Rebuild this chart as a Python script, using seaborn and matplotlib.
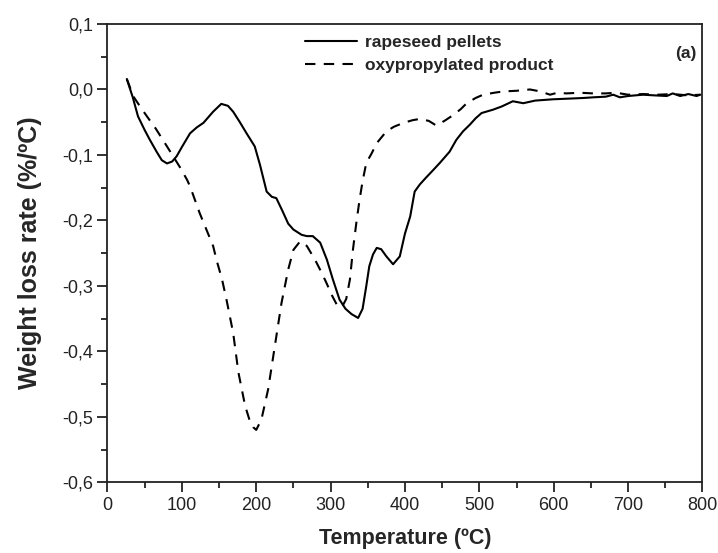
import pandas as pd
import seaborn as sns
import matplotlib.pyplot as plt
from matplotlib.ticker import FixedLocator, MultipleLocator

# data
rapeseed_temp = [26, 34, 41, 50, 57, 66, 73, 80, 87, 93, 100, 111, 120, 129, 142, 153, 162, 169,
                 178, 187, 198, 205, 214, 221, 227, 235, 243, 250, 261, 268, 276, 286, 295, 303,
                 312, 320, 328, 337, 343, 348, 352, 357, 362, 368, 375, 384, 393, 400, 407, 413,
                 420, 428, 438, 447, 460, 469, 478, 487, 495, 503, 518, 530, 545, 559, 575, 599,
                 620, 640, 653, 670, 680, 689, 700, 720, 735, 752, 760, 770, 781, 792, 797]
rapeseed_rate = [0.016, -0.012, -0.041, -0.062, -0.077, -0.095, -0.108, -0.113, -0.110, -0.102,
                 -0.088, -0.067, -0.058, -0.051, -0.034, -0.022, -0.025, -0.034, -0.050, -0.067,
                 -0.087, -0.115, -0.156, -0.164, -0.166, -0.185, -0.205, -0.214, -0.222, -0.224,
                 -0.224, -0.234, -0.260, -0.290, -0.321, -0.335, -0.343, -0.349, -0.335, -0.300,
                 -0.270, -0.252, -0.242, -0.244, -0.255, -0.267, -0.255, -0.220, -0.194, -0.156,
                 -0.145, -0.135, -0.123, -0.112, -0.095, -0.077, -0.064, -0.054, -0.044, -0.036,
                 -0.031, -0.026, -0.018, -0.021, -0.017, -0.015, -0.014, -0.013, -0.012, -0.011,
                 -0.008, -0.012, -0.010, -0.008, -0.009, -0.010, -0.006, -0.010, -0.007, -0.010,
                 -0.008]

oxy_temp = [26, 35, 45, 53, 65, 80, 97, 107, 111, 124, 133, 142, 147, 154, 160, 169, 176, 185,
            191, 196, 200, 207, 216, 225, 234, 243, 250, 259, 268, 279, 288, 295, 302, 308, 315,
            321, 326, 330, 335, 339, 343, 348, 355, 362, 375, 385, 398, 410, 420, 432, 442, 453,
            465, 475, 483, 495, 505, 520, 532, 550, 568, 582, 595, 605, 617, 635, 653, 670, 684,
            700, 720, 740, 760, 780, 797]
oxy_rate = [0.016, -0.011, -0.028, -0.041, -0.060, -0.087, -0.118, -0.138, -0.148, -0.189, -0.214,
            -0.239, -0.262, -0.290, -0.321, -0.372, -0.432, -0.483, -0.505, -0.516, -0.520, -0.504,
            -0.458, -0.392, -0.326, -0.275, -0.245, -0.232, -0.239, -0.260, -0.280, -0.297, -0.315,
            -0.328, -0.333, -0.320, -0.290, -0.245, -0.200, -0.168, -0.140, -0.112, -0.098, -0.082,
            -0.064, -0.057, -0.051, -0.047, -0.045, -0.048, -0.055, -0.048, -0.039, -0.030, -0.021,
            -0.013, -0.008, -0.005, -0.003, -0.002, 0.000, -0.003, -0.008, -0.005, -0.006, -0.005,
            -0.006, -0.006, -0.005, -0.008, -0.007, -0.008, -0.007, -0.009, -0.008]

x_ticks = [0, 100, 200, 300, 400, 500, 600, 700, 800]
y_ticks = [-0.6, -0.5, -0.4, -0.3, -0.2, -0.1, 0.0, 0.1]
y_tick_labels = ['-0,6', '-0,5', '-0,4', '-0,3', '-0,2', '-0,1', '0,0', '0,1']

sns.set_style('ticks')
plt.rcParams['font.family'] = ['Liberation Sans', 'DejaVu Sans']

fig = plt.figure(figsize=(7.18, 5.53), dpi=100)
ax = fig.add_axes([0.1497, 0.1279, 0.8287, 0.8287])

sns.lineplot(x=rapeseed_temp, y=rapeseed_rate, ax=ax, color='black', lw=1.5,
             label='rapeseed pellets')
sns.lineplot(x=oxy_temp, y=oxy_rate, ax=ax, color='black', lw=1.5,
             label='oxypropylated product')
ax.lines[1].set_dashes((5, 4))

ax.set_xlim(0, 800)
ax.set_ylim(-0.6, 0.1)
ax.xaxis.set_major_locator(FixedLocator(x_ticks))
ax.xaxis.set_minor_locator(MultipleLocator(50))
ax.set_yticks(y_ticks)
ax.set_yticklabels(y_tick_labels)
ax.yaxis.set_minor_locator(MultipleLocator(0.05))
ax.tick_params(which='major', direction='out', length=7, width=1.3, labelsize=13,
               colors='#222222', labelcolor='#222222')
ax.tick_params(which='minor', direction='out', length=4, width=1.3, colors='#222222')
for s in ax.spines.values():
    s.set_linewidth(1.3)
    s.set_color('#222222')

ax.set_xlabel('Temperature (ºC)', fontsize=15.5, fontweight='bold', labelpad=10)
ax.set_ylabel('Weight loss rate (%/ºC)', fontsize=18, fontweight='bold', labelpad=14)

leg = ax.legend(loc='upper left', bbox_to_anchor=(0.306, 1.01), frameon=False,
                handlelength=3.0, labelspacing=0.45, handletextpad=0.45,
                prop={'weight': 'bold', 'size': 12.5})
ax.text(0.99, 0.935, '(a)', transform=ax.transAxes, ha='right', va='center',
        fontsize=12.5, fontweight='bold')

fig.savefig('out.png', dpi=100)
